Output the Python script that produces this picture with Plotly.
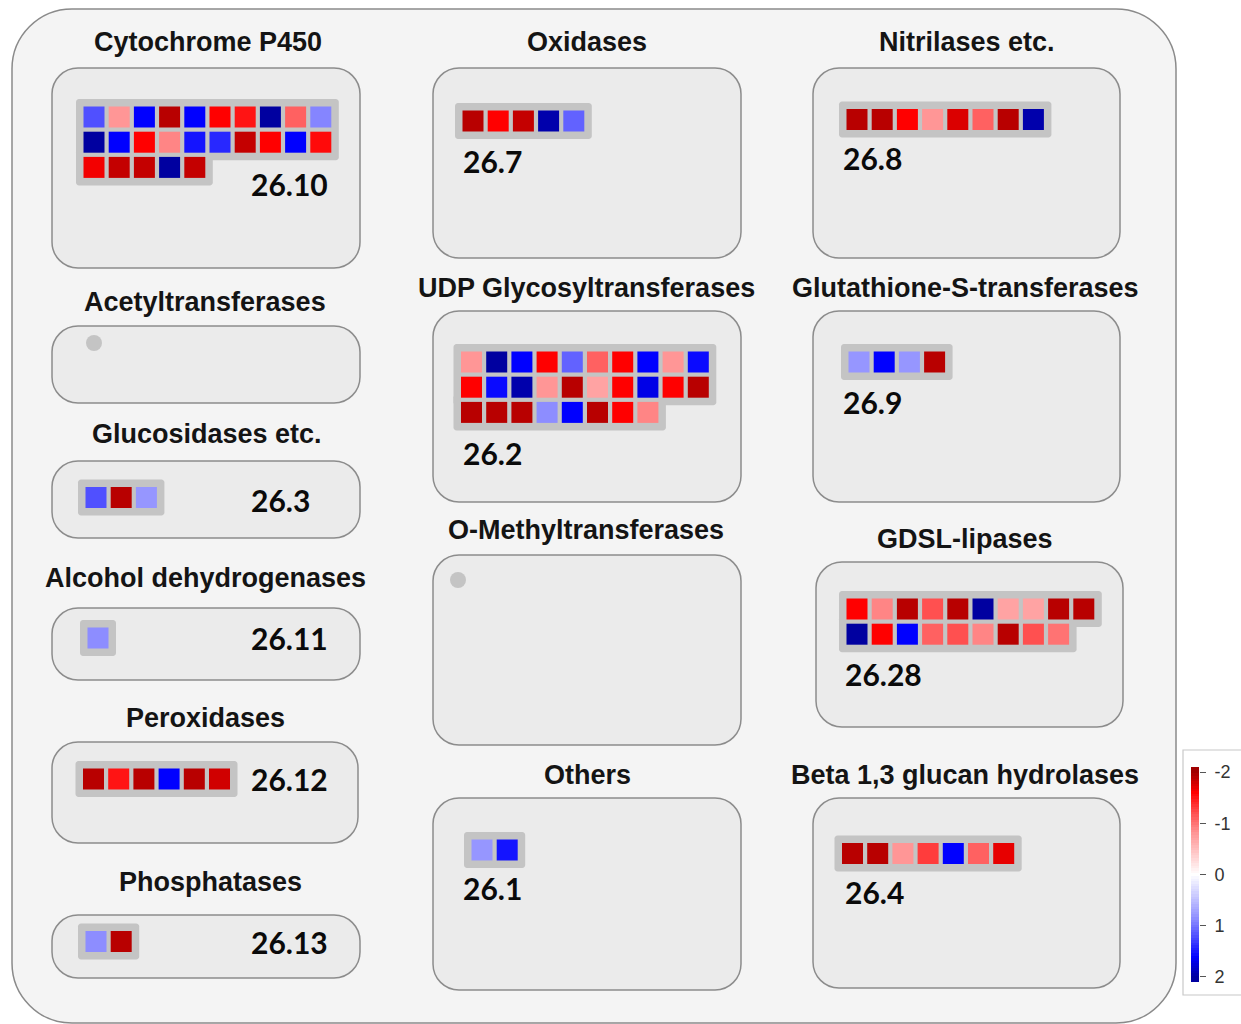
import plotly.graph_objects as go

# ---------------- data ----------------
group_titles = [
    "Cytochrome P450", "Acetyltransferases", "Glucosidases etc.",
    "Alcohol dehydrogenases", "Peroxidases", "Phosphatases",
    "Oxidases", "UDP Glycosyltransferases", "O-Methyltransferases", "Others",
    "Nitrilases etc.", "Glutathione-S-transferases", "GDSL-lipases",
    "Beta 1,3 glucan hydrolases",
]
bin_codes = [
    "26.10", "", "26.3", "26.11", "26.12", "26.13",
    "26.7", "26.2", "", "26.1",
    "26.8", "26.9", "26.28", "26.4",
]

# log2 fold changes of the genes in each bin
cyp450 = [1.2, -0.8, 1.6, -1.9, 1.6, -1.6, -1.5, 2.0, -1.1, 0.9,
          2.0, 1.6, -1.6, -0.9, 1.5, 1.4, -1.85, -1.6, 1.6, -1.55,
          -1.65, -1.85, -1.85, 2.0, -1.85]
acetyltransferases = []
glucosidases = [1.2, -1.9, 0.8]
alcohol_dh = [0.85]
peroxidases = [-1.9, -1.5, -1.9, 1.6, -1.9, -1.8]
phosphatases = [0.85, -1.9]
oxidases = [-1.9, -1.6, -1.85, 1.95, 1.1]
udp_gt = [-0.8, 2.0, 1.6, -1.6, 1.1, -1.1, -1.6, 1.6, -0.8, 1.55,
          -1.6, 1.55, 1.95, -0.8, -1.9, -0.7, -1.6, 1.7, -1.6, -1.9,
          -1.9, -1.9, -1.9, 0.85, 1.6, -1.9, -1.6, -0.9]
o_methyltransferases = []
others = [0.8, 1.5]
nitrilases = [-1.9, -1.9, -1.6, -0.8, -1.75, -1.1, -1.9, 1.95]
gst = [0.8, 1.6, 0.8, -1.9]
gdsl = [-1.6, -0.9, -1.9, -1.2, -1.9, 2.0, -0.7, -0.7, -1.9, -1.9,
        2.0, -1.6, 1.6, -1.1, -1.2, -0.9, -1.9, -1.2, -1.0]
beta13 = [-1.9, -1.9, -0.8, -1.3, 1.6, -1.1, -1.7]

group_values = [cyp450, acetyltransferases, glucosidases, alcohol_dh,
                peroxidases, phosphatases, oxidases, udp_gt,
                o_methyltransferases, others, nitrilases, gst, gdsl, beta13]

scale_ticks = [-2, -1, 0, 1, 2]
scale_labels = ["-2", "-1", "0", "1", "2"]

# ---------------- layout of the pathway panel (pixel space) ----------------
W, H = 1241, 1024
PITCH = 25.2
SQ = 21
PAD = 7.5
COLS = 10

# title (x, y), box (x0, x1, y0, y1), first square centre, label (x, y)
panel = [
    dict(t=(208, 42), box=(52, 360, 68, 268), sq=(94, 117), lab=(249, 184)),
    dict(t=(205, 302), box=(52, 360, 326, 403), dot=(94, 343)),
    dict(t=(207, 434), box=(52, 360, 461, 538), sq=(96, 497.5), lab=(249, 500)),
    dict(t=(205, 578), box=(52, 360, 608, 680), sq=(98, 638), lab=(249, 638)),
    dict(t=(205, 718), box=(52, 358, 742, 843), sq=(93.5, 779), lab=(249, 779)),
    dict(t=(210, 882), box=(52, 360, 915, 978), sq=(96, 941.5), lab=(249, 942)),
    dict(t=(587, 42), box=(433, 741, 68, 258), sq=(473, 121), lab=(461, 161)),
    dict(t=(586, 288), box=(433, 741, 311, 502), sq=(471.5, 362), lab=(461, 453)),
    dict(t=(586, 530), box=(433, 741, 555, 745), dot=(458, 580)),
    dict(t=(587, 775), box=(433, 741, 798, 990), sq=(482, 850), lab=(461, 888)),
    dict(t=(967, 42), box=(813, 1120, 68, 258), sq=(857, 119.5), lab=(841, 158)),
    dict(t=(965, 288), box=(813, 1120, 311, 502), sq=(859, 362), lab=(841, 402)),
    dict(t=(965, 539), box=(816, 1123, 562, 727), sq=(857, 609), lab=(843, 674)),
    dict(t=(965, 775), box=(813, 1120, 798, 988), sq=(852.5, 853.5), lab=(843, 892)),
]

colorscale = [
    [0.0, "rgb(160,0,0)"],
    [0.1, "rgb(255,0,0)"],
    [0.2, "rgb(255,80,80)"],
    [0.3, "rgb(255,150,150)"],
    [0.5, "rgb(255,255,255)"],
    [0.7, "rgb(150,150,255)"],
    [0.8, "rgb(80,80,255)"],
    [0.9, "rgb(0,0,255)"],
    [1.0, "rgb(0,0,160)"],
]

TITLE_FONT = dict(family="Liberation Sans, Arial, sans-serif", size=27,
                  color="#141414", weight="bold")
CODE_FONT = dict(family="Lato, Open Sans, sans-serif", size=30,
                 color="#0a0a0a", weight="bold")


def rounded_path(x0, x1, y0, y1, r):
    k = 0.5523 * r
    return (f"M{x0 + r},{y0} L{x1 - r},{y0} "
            f"C{x1 - r + k},{y0} {x1},{y0 + r - k} {x1},{y0 + r} "
            f"L{x1},{y1 - r} "
            f"C{x1},{y1 - r + k} {x1 - r + k},{y1} {x1 - r},{y1} "
            f"L{x0 + r},{y1} "
            f"C{x0 + r - k},{y1} {x0},{y1 - r + k} {x0},{y1 - r} "
            f"L{x0},{y0 + r} "
            f"C{x0},{y0 + r - k} {x0 + r - k},{y0} {x0 + r},{y0} Z")


fig = go.Figure()
shapes = []
annotations = []

# outer frame
shapes.append(dict(type="path", path=rounded_path(12, 1176, 9, 1023, 60),
                   xref="x", yref="y", fillcolor="#f4f4f4",
                   line=dict(color="#8a8a8a", width=1.5), layer="below"))

for title, code, vals, p in zip(group_titles, bin_codes, group_values, panel):
    bx0, bx1, by0, by1 = p["box"]
    shapes.append(dict(type="path", path=rounded_path(bx0, bx1, by0, by1, 26),
                       xref="x", yref="y", fillcolor="#ebebeb",
                       line=dict(color="#8c8c8c", width=1.5), layer="below"))
    annotations.append(dict(x=p["t"][0], y=p["t"][1], xref="x", yref="y",
                            text=title, showarrow=False, xanchor="center",
                            yanchor="middle", font=TITLE_FONT))
    if "dot" in p:
        dx, dy = p["dot"]
        shapes.append(dict(type="circle", xref="x", yref="y",
                           x0=dx - 8, x1=dx + 8, y0=dy - 8, y1=dy + 8,
                           fillcolor="#c4c4c4", line=dict(width=0)))
        continue

    sx, sy = p["sq"]
    n = len(vals)
    xs = [sx + (i % COLS) * PITCH for i in range(n)]
    ys = [sy + (i // COLS) * PITCH for i in range(n)]

    # grey backing plate behind the gene squares
    half = SQ / 2 + PAD
    full_rows = n // COLS
    rem = n % COLS
    if full_rows > 0:
        shapes.append(dict(type="path", xref="x", yref="y",
                           path=rounded_path(sx - half, sx + (COLS - 1) * PITCH + half,
                                             sy - half,
                                             sy + (full_rows - 1) * PITCH + half, 3),
                           fillcolor="#c4c4c4", line=dict(width=0), layer="below"))
    if rem > 0:
        ry = sy + full_rows * PITCH
        shapes.append(dict(type="path", xref="x", yref="y",
                           path=rounded_path(sx - half, sx + (rem - 1) * PITCH + half,
                                             ry - half, ry + half, 3),
                           fillcolor="#c4c4c4", line=dict(width=0), layer="below"))

    fig.add_trace(go.Scatter(
        x=xs, y=ys, mode="markers", name=title, showlegend=False,
        hovertemplate=title + ": %{marker.color}<extra></extra>",
        marker=dict(symbol="square", size=SQ, color=vals, colorscale=colorscale,
                    cmin=-2, cmax=2, line=dict(width=0)),
    ))
    annotations.append(dict(x=p["lab"][0], y=p["lab"][1], xref="x", yref="y",
                            text=code, showarrow=False, xanchor="left",
                            yanchor="middle", font=CODE_FONT))

# colour key box
shapes.append(dict(type="rect", xref="x", yref="y", x0=1183, x1=1250,
                   y0=750, y1=995, fillcolor="white",
                   line=dict(color="#c8c8c8", width=1.2), layer="below"))

# colour key as a thin heatmap strip on its own axis (reversed: -2 at top)
key_steps = [round(-2.1 + 0.05 * i, 3) for i in range(85)]
fig.add_trace(go.Heatmap(
    z=[[v] for v in key_steps], y=key_steps, x=[0],
    colorscale=colorscale, zmin=-2, zmax=2, showscale=False,
    xaxis="x2", yaxis="y2", hoverinfo="skip",
))

fig.update_layout(
    width=W, height=H,
    margin=dict(l=0, r=0, t=0, b=0, pad=0, autoexpand=False),
    paper_bgcolor="white", plot_bgcolor="rgba(0,0,0,0)",
    xaxis=dict(range=[0, W], visible=False, domain=[0, 1], fixedrange=True),
    yaxis=dict(range=[H, 0], visible=False, domain=[0, 1], fixedrange=True),
    xaxis2=dict(domain=[1191 / W, 1199 / W], visible=False, anchor="y2",
                range=[-0.5, 0.5]),
    yaxis2=dict(domain=[1 - 982 / H, 1 - 767 / H], anchor="x2",
                range=[2.1, -2.1], side="right", showgrid=False,
                zeroline=False, showline=False, automargin=False,
                tickvals=scale_ticks, ticktext=scale_labels,
                ticks="outside", ticklen=6, tickwidth=1.2, tickcolor="#555555",
                ticklabelstandoff=5,
                tickfont=dict(family="Liberation Sans, Arial, sans-serif",
                              size=18, color="#333333")),
    shapes=shapes,
    annotations=annotations,
)

fig.write_html("out.html", config={"responsive": False})
